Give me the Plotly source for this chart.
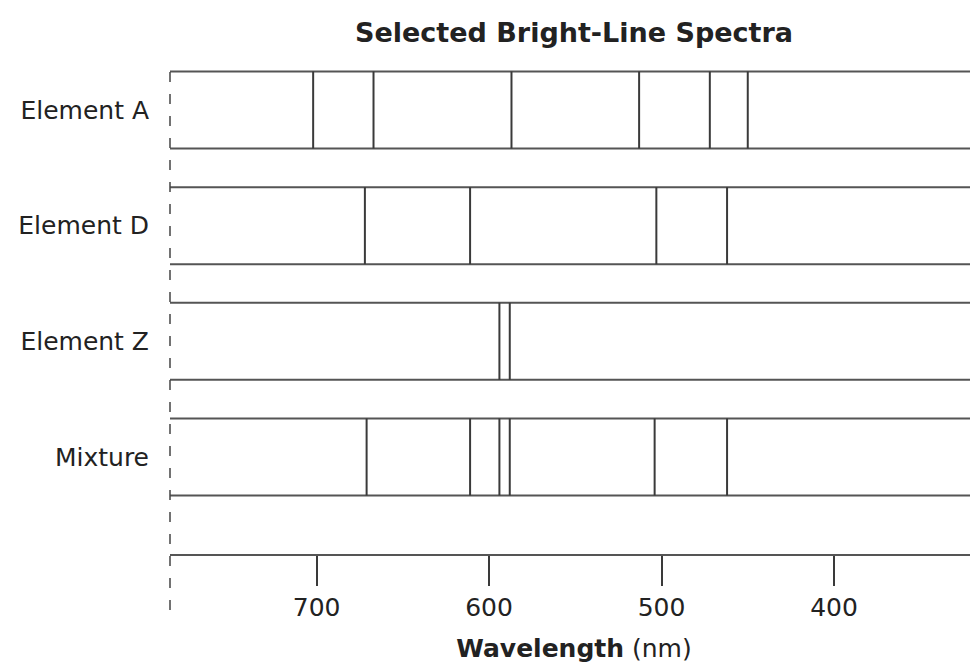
import plotly.graph_objects as go

# ---- data ----
rows = ["Element A", "Element D", "Element Z", "Mixture"]
row_pos = [3, 2, 1, 0]
lines_A = [702, 667, 587, 513, 472, 450]
lines_D = [672, 611, 503, 462]
lines_Z = [594, 588]
lines_mix = [671, 611, 594, 588, 504, 462]
all_lines = [lines_A, lines_D, lines_Z, lines_mix]
tick_vals = [700, 600, 500, 400]
tick_text = ["700", "600", "500", "400"]

x_range = [785, 316.5]
y_range = [-0.839, 3.363]
half_h = 0.333

font_family = "DejaVu Sans"
line_col = "#3a3a3a"
band_col = "#555555"

fig = go.Figure()

for pos, wl in zip(row_pos, all_lines):
    # band borders
    bx, by = [], []
    for edge in (pos - half_h, pos + half_h):
        bx += [x_range[0], x_range[1], None]
        by += [edge, edge, None]
    fig.add_trace(go.Scatter(x=bx, y=by, mode="lines",
                             line=dict(color=band_col, width=2),
                             hoverinfo="skip", showlegend=False))
    # emission lines
    vx, vy = [], []
    for w in wl:
        vx += [w, w, None]
        vy += [pos - half_h, pos + half_h, None]
    fig.add_trace(go.Scatter(x=vx, y=vy, mode="lines",
                             line=dict(color=line_col, width=2),
                             showlegend=False))

# dashed left boundary
fig.add_shape(type="line", xref="paper", yref="paper",
              x0=0, x1=0, y0=-0.115, y1=1.0,
              line=dict(color="#444444", width=1.5, dash="10px,12px"))

W, H = 970, 658
fig.update_layout(
    width=W, height=H,
    margin=dict(l=162, r=0, t=60, b=112),
    paper_bgcolor="white", plot_bgcolor="white",
    font=dict(family=font_family, color="#222222", size=25),
    title=dict(text="<b>Selected Bright-Line Spectra</b>",
               x=0.5, xref="paper", xanchor="center",
               y=1 - 25 / H, yanchor="middle",
               font=dict(size=27, family=font_family, color="#222222")),
    xaxis=dict(range=x_range, autorange=False,
               tickmode="array", tickvals=tick_vals, ticktext=tick_text,
               ticks="outside", ticklen=30, tickwidth=2, tickcolor=line_col,
               showline=True, linecolor=band_col, linewidth=2,
               showgrid=False, zeroline=False,
               tickfont=dict(size=25),
               title=dict(text="<b>Wavelength</b> (nm)", standoff=18,
                          font=dict(size=25))),
    yaxis=dict(range=y_range, autorange=False,
               tickmode="array", tickvals=row_pos, ticktext=rows,
               ticks="", showline=False, showgrid=False, zeroline=False,
               ticklabelstandoff=20, tickfont=dict(size=25)),
)

fig.write_html("out.html")
